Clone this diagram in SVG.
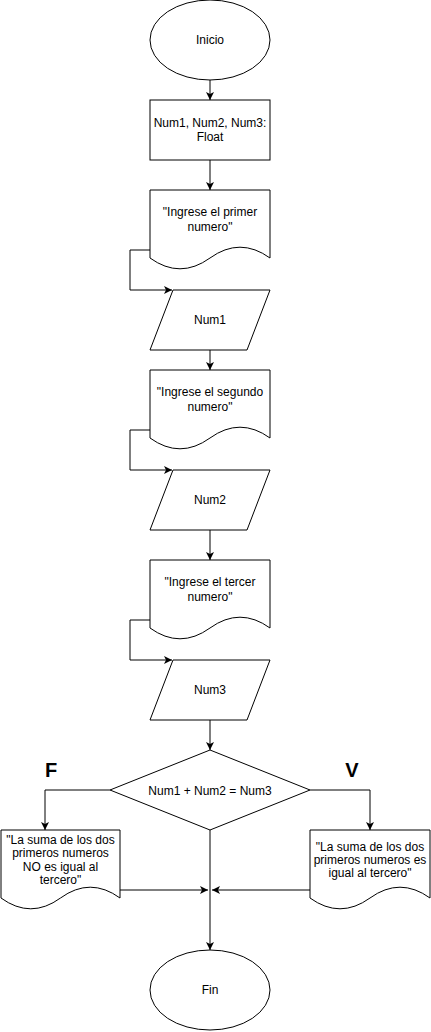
<svg xmlns="http://www.w3.org/2000/svg" width="431" height="1032" viewBox="0 0 431 1032">
<style>
.s{fill:#fff;stroke:#000;stroke-width:1}
.t{font-family:"Liberation Sans",Arial,Helvetica,sans-serif;font-size:12px;fill:#000;text-anchor:middle}
.b{font-family:"Liberation Sans",Arial,Helvetica,sans-serif;font-size:20px;font-weight:bold;fill:#000;text-anchor:middle}
.c{fill:none;stroke:#000;stroke-width:1}
</style>
<defs>
<marker id="a" markerUnits="userSpaceOnUse" markerWidth="10" markerHeight="10" refX="8" refY="4" orient="auto">
<path d="M0,0 L8,4 L0,8 L2,4 Z" fill="#000"/>
</marker>
</defs>
<rect width="431" height="1032" fill="#fff"/>
<g id="connectors">
<path class="c" d="M210,80 V100" marker-end="url(#a)"/>
<path class="c" d="M210,160 V190" marker-end="url(#a)"/>
<path class="c" d="M150,250 H130 V290 H172" marker-end="url(#a)"/>
<path class="c" d="M210,350 V370" marker-end="url(#a)"/>
<path class="c" d="M150,430 H130 V470 H172" marker-end="url(#a)"/>
<path class="c" d="M210,530 V560" marker-end="url(#a)"/>
<path class="c" d="M150,620 H130 V660 H172" marker-end="url(#a)"/>
<path class="c" d="M210,720 V750" marker-end="url(#a)"/>
<path class="c" d="M110,790 H45 V830" marker-end="url(#a)"/>
<path class="c" d="M310,790 H370 V830" marker-end="url(#a)"/>
<path class="c" d="M210,830 V950" marker-end="url(#a)"/>
<path class="c" d="M120,890 H208" marker-end="url(#a)"/>
<path class="c" d="M310,890 H212" marker-end="url(#a)"/>
</g>
<g id="inicio">
<ellipse class="s" cx="210" cy="40" rx="60" ry="40"/>
<text class="t" x="210" y="44">Inicio</text>
</g>
<g id="declaracion">
<rect class="s" x="150" y="100" width="120" height="60"/>
<text class="t" x="210" y="127">Num1, Num2, Num3:</text>
<text class="t" x="210" y="141">Float</text>
</g>
<g id="msg1">
<path class="s" d="M150,190 H270 V258 Q240,236.4 210,258 Q180,279.6 150,258 Z"/>
<text class="t" x="210" y="216">"Ingrese el primer</text>
<text class="t" x="210" y="231">numero"</text>
</g>
<g id="in1">
<path class="s" d="M173,290 H270 L247,350 H150 Z"/>
<text class="t" x="210" y="324">Num1</text>
</g>
<g id="msg2">
<path class="s" d="M150,370 H270 V438 Q240,416.4 210,438 Q180,459.6 150,438 Z"/>
<text class="t" x="210" y="396">"Ingrese el segundo</text>
<text class="t" x="210" y="411">numero"</text>
</g>
<g id="in2">
<path class="s" d="M173,470 H270 L247,530 H150 Z"/>
<text class="t" x="210" y="504">Num2</text>
</g>
<g id="msg3">
<path class="s" d="M150,560 H270 V628 Q240,606.4 210,628 Q180,649.6 150,628 Z"/>
<text class="t" x="210" y="586">"Ingrese el tercer</text>
<text class="t" x="210" y="601">numero"</text>
</g>
<g id="in3">
<path class="s" d="M173,660 H270 L247,720 H150 Z"/>
<text class="t" x="210" y="694">Num3</text>
</g>
<g id="decision">
<path class="s" d="M210,750 L310,790 L210,830 L110,790 Z"/>
<text class="t" x="210" y="795">Num1 + Num2 = Num3</text>
</g>
<g id="labelF">
<text class="b" x="51" y="777">F</text>
</g>
<g id="labelV">
<text class="b" x="352" y="777">V</text>
</g>
<g id="msgFalse">
<path class="s" d="M1,830 H120 V898 Q90.25,876.4 60.5,898 Q30.75,919.6 1,898 Z"/>
<text class="t" x="60.5" y="844">"La suma de los dos</text>
<text class="t" x="60.5" y="857">primeros numeros</text>
<text class="t" x="60.5" y="871">NO es igual al</text>
<text class="t" x="60.5" y="884">tercero"</text>
</g>
<g id="msgTrue">
<path class="s" d="M310,830 H430 V898 Q400,876.4 370,898 Q340,919.6 310,898 Z"/>
<text class="t" x="370" y="851">"La suma de los dos</text>
<text class="t" x="370" y="864">primeros numeros es</text>
<text class="t" x="370" y="877">igual al tercero"</text>
</g>
<g id="fin">
<ellipse class="s" cx="210" cy="990" rx="60" ry="40"/>
<text class="t" x="210" y="994">Fin</text>
</g>
</svg>
